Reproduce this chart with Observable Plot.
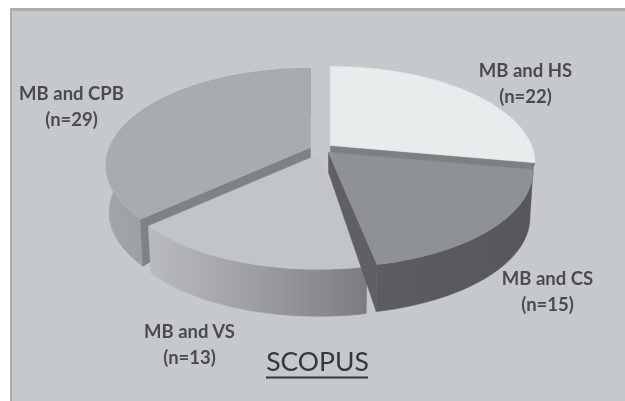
<!DOCTYPE html>
<html>
<head>
<meta charset="utf-8">
<script src="https://cdn.jsdelivr.net/npm/d3@7"></script>
<script src="https://cdn.jsdelivr.net/npm/@observablehq/plot@0.6"></script>
<style>html,body{margin:0;padding:0;background:#fff}svg{display:block}</style>
</head>
<body>
<div id="chart"></div>
<script>
// Data
const categories = ["MB and HS", "MB and CS", "MB and VS", "MB and CPB"];
const counts = [22, 15, 13, 29];
const title = "SCOPUS";
// Styles
const topColors = ["#e9ecec", "#8f9294", "#c2c5c7", "#a9acae"];
const wallColors = ["#c0c2c4", "url(#csWall)", "url(#vsWall)", "url(#cpbWall)"];
const radialColors = ["#7d8082", "#5e6062", "#8a8c8e", "#7f8284"];
// Layout of the perspective pie (screen units)
const explodeX = [330, 328, 318, 310];
const explodeY = [145, 152, 154, 147];
const labelX = [525, 547, 189, 71];
const labelY = [81, 289, 342, 104];
const rimW = 201, rimH = 93.6, persp = 0.185;
const rimDepth = 47, apexDepth = 20, bottomShrink = 0.985;

const total = d3.sum(counts);
const ends = d3.cumsum(counts).map(v => v / total * 2 * Math.PI);
const starts = ends.map((_, i) => (i ? ends[i - 1] : 0));

function rim(i, t) {
  const X = Math.sin(t), Y = Math.cos(t), f = 1 / (1 + persp * Y);
  return [explodeX[i] + X * rimW * f, explodeY[i] - Y * rimH * f];
}
function rimBottom(i, t, depth = rimDepth) {
  const [x, y] = rim(i, t);
  return [explodeX[i] + (x - explodeX[i]) * bottomShrink, y + depth];
}
const arcAngles = i => d3.range(0, 61).map(k => starts[i] + (ends[i] - starts[i]) * k / 60);
const topFace = i => [[explodeX[i], explodeY[i]], ...arcAngles(i).map(t => rim(i, t))];
const outerWall = i => [...arcAngles(i).map(t => rim(i, t)), ...arcAngles(i).reverse().map(t => rimBottom(i, t))];
const radialWall = (i, t, depth = rimDepth, inner = apexDepth) => [[explodeX[i], explodeY[i]], rim(i, t), rimBottom(i, t, depth), [explodeX[i], explodeY[i] + inner]];

const poly = (pts, fill) => Plot.line([...pts, pts[0]], {x: d => d[0], y: d => d[1], fill, stroke: fill, strokeWidth: 0.5, curve: "linear"});

const HS = 0, CS = 1, VS = 2, CPB = 3;
const defs = () => {
  const ns = "http://www.w3.org/2000/svg";
  const d = document.createElementNS(ns, "defs");
  const grads = {
    cpbWall: [[0, "#a3a6a8"], [1, "#85888a"]],
    vsWall: [[0, "#b9bcbe"], [0.5, "#9c9ea0"], [1, "#7c7c80"]],
    csWall: [[0, "#5c5d60"], [1, "#56575a"]]
  };
  for (const [id, stops] of Object.entries(grads)) {
    const g = document.createElementNS(ns, "linearGradient");
    g.setAttribute("id", id);
    for (const [o, c] of stops) {
      const s = document.createElementNS(ns, "stop");
      s.setAttribute("offset", o);
      s.setAttribute("stop-color", c);
      g.appendChild(s);
    }
    d.appendChild(g);
  }
  return d;
};

const labels = categories.map((c, i) => ({text: `${c}\n(n=${counts[i]})`, x: labelX[i], y: labelY[i]}));

const plot = Plot.plot({
  width: 625, height: 401,
  marginTop: 0, marginRight: 0, marginBottom: 0, marginLeft: 0,
  x: {domain: [0, 625], range: [0, 625], axis: null},
  y: {domain: [0, 401], range: [0, 401], axis: null},
  style: {background: "#fff", filter: "blur(0.6px)"},
  marks: [
    defs,
    Plot.rect([{}], {x1: 10, x2: 625, y1: 8, y2: 401, fill: "#abaeb0"}),
    Plot.rect([{}], {x1: 12, x2: 625, y1: 11, y2: 401, fill: "#c6c9cb"}),
    poly(outerWall(CPB), wallColors[CPB]),
    poly(radialWall(CPB, starts[CPB]), radialColors[CPB]),
    poly(topFace(CPB), topColors[CPB]),
    poly(radialWall(HS, ends[HS], 10, 10), radialColors[HS]),
    poly(topFace(HS), topColors[HS]),
    poly(outerWall(VS), wallColors[VS]),
    poly(topFace(VS), topColors[VS]),
    poly(radialWall(CS, ends[CS]), radialColors[CS]),
    poly(outerWall(CS), wallColors[CS]),
    poly(topFace(CS), topColors[CS]),
    Plot.text(labels, {x: "x", y: "y", text: "text", fontFamily: "Lato", fontWeight: 700, fontSize: 18.5, lineHeight: 1.4, fill: "#494b50"}),
    Plot.text([title], {x: 317, y: 362, text: d => d, fontFamily: "Lato", fontSize: 26.5, fill: "#34373c"}),
    Plot.ruleY([377], {x1: 266, x2: 368, stroke: "#34373c", strokeWidth: 2})
  ]
});
document.getElementById("chart").appendChild(plot);
</script>
</body>
</html>
